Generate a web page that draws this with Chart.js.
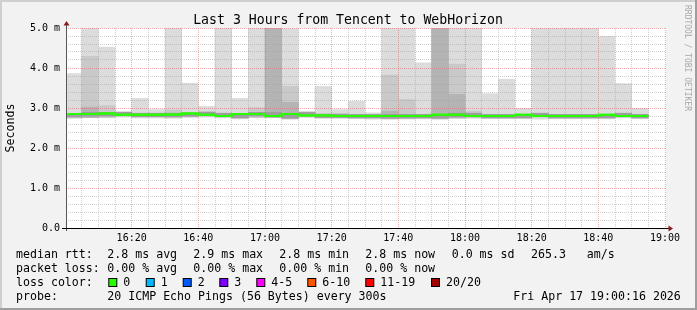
<!DOCTYPE html>
<html>
<head>
<meta charset="utf-8">
<script src="https://cdn.jsdelivr.net/npm/chart.js@4.4.1/dist/chart.umd.min.js"></script>
<style>
  html, body { margin: 0; padding: 0; background: #f2f2f2; }
  canvas { display: block; }
</style>
</head>
<body>
<canvas id="smokeChart" width="697" height="310"></canvas>
<script>
// 5 minute steps, start of each step
const slots = ['16:00','16:05','16:10','16:15','16:20','16:25','16:30','16:35','16:40','16:45',
               '16:50','16:55','17:00','17:05','17:10','17:15','17:20','17:25','17:30','17:35',
               '17:40','17:45','17:50','17:55','18:00','18:05','18:10','18:15','18:20','18:25',
               '18:30','18:35','18:40','18:45','18:50'];

// rtt in ms
const medianRtt = [2.82,2.85,2.85,2.86,2.83,2.83,2.83,2.84,2.86,2.83,2.80,2.85,2.85,2.80,2.85,2.81,2.81,2.80,2.80,2.80,
                   2.80,2.80,2.80,2.83,2.83,2.80,2.80,2.80,2.83,2.80,2.80,2.80,2.80,2.83,2.80];
const smokeMin  = [2.74,2.76,2.76,2.77,2.75,2.75,2.75,2.76,2.77,2.75,2.73,2.76,2.76,2.73,2.76,2.74,2.74,2.73,2.72,2.73,
                   2.73,2.73,2.73,2.75,2.75,2.73,2.73,2.73,2.72,2.73,2.73,2.73,2.73,2.75,2.73];
const smokeMax  = [3.86,5.00,4.52,2.89,3.24,2.96,5.00,3.62,3.04,5.00,3.24,5.00,5.00,4.98,2.92,3.54,2.96,3.17,2.88,5.00,
                   5.00,4.13,5.00,5.00,5.00,3.36,3.72,2.99,5.00,5.00,5.00,5.00,4.79,3.61,2.99];
const smokeMid  = [null,4.29,3.06,null,null,null,2.95,null,null,null,null,3.01,null,3.54,null,null,null,null,null,3.82,
                   3.21,null,null,4.10,2.92,null,null,null,null,null,null,null,null,null,null];
const smokeDark = [null,3.02,null,null,null,null,null,null,null,null,null,null,5.00,3.14,null,null,null,null,null,2.92,
                   null,null,5.00,3.34,null,null,null,null,null,null,null,null,null,null,null];
const coreLow   = [2.77,2.80,2.80,2.81,2.78,2.78,2.78,2.79,2.81,2.78,2.75,2.80,2.80,2.75,2.80,2.76,2.76,2.75,2.75,2.75,
                   2.75,2.75,2.75,2.78,2.78,2.75,2.75,2.75,2.78,2.75,2.75,2.75,2.75,2.78,2.75];
const coreHigh  = [2.86,2.89,2.89,2.90,2.87,2.87,2.87,2.88,2.90,2.87,2.84,2.89,2.89,2.84,2.89,2.85,2.85,2.84,2.84,2.84,
                   2.84,2.84,2.84,2.87,2.87,2.84,2.84,2.84,2.87,2.84,2.84,2.84,2.84,2.87,2.84];

const timeTicks = ['16:20','16:40','17:00','17:20','17:40','18:00','18:20','18:40','19:00'];
const rttTicks  = ['0.0','1.0 m','2.0 m','3.0 m','4.0 m','5.0 m'];

const rttStats  = ['2.8 ms avg','2.9 ms max','2.8 ms min','2.8 ms now','0.0 ms sd','265.3','am/s'];
const lossStats = ['0.00 % avg','0.00 % max','0.00 % min','0.00 % now'];
const lossLabels = ['0','1','2','3','4-5','6-10','11-19','20/20'];
const lossColors = ['#26ff00','#00b8ff','#0059ff','#7e00ff','#ff00ff','#ff5500','#ff0000','#a10000'];
const probeText = '20 ICMP Echo Pings (56 Bytes) every 300s';
const stampText = 'Fri Apr 17 19:00:16 2026';

const STEP = 5;
const toMin = s => { const [h, m] = s.split(':').map(Number); return (h - 16) * 60 + m; };
const mids = slots.map(s => toMin(s) + STEP / 2);

const rangeData = (lo, hi) => mids
  .map((x, i) => (hi[i] == null ? null : { x: x, y: [lo[i], hi[i]] }))
  .filter(d => d);

// higher order is painted first (underneath)
const barStyle = (color, order) => ({
  type: 'bar', backgroundColor: color, borderWidth: 0, grouped: false, order: order,
  barPercentage: 1, categoryPercentage: 1
});

const medianLine = slots.map((s, i) => ({ x: toMin(s), y: medianRtt[i] }));
medianLine.push({ x: toMin(slots[slots.length - 1]) + STEP, y: medianRtt[medianRtt.length - 1] });

const MONO = '"DejaVu Sans Mono", monospace';
const isWhole = v => Math.abs(v - Math.round(v)) < 1e-6;
const MAJOR = 'rgba(225,90,90,0.5)';
const MINOR = 'rgba(160,160,160,0.5)';

const frame = {
  id: 'frame',
  beforeDraw(chart) {
    const { ctx, chartArea: a, width: W, height: H } = chart;
    ctx.save();
    ctx.fillStyle = '#f2f2f2';
    ctx.fillRect(0, 0, W, H);
    ctx.fillStyle = '#cfcfcf';
    ctx.fillRect(0, 0, W, 2);
    ctx.fillRect(0, 0, 2, H);
    ctx.fillStyle = '#9e9e9e';
    ctx.fillRect(0, H - 2, W, 2);
    ctx.fillRect(W - 2, 0, 2, H);
    ctx.fillStyle = '#ffffff';
    ctx.fillRect(a.left, a.top, a.right - a.left, a.bottom - a.top);
    ctx.restore();
  },
  afterDraw(chart) {
    const { ctx, chartArea: a } = chart;
    // median above the grid
    const idx = chart.data.datasets.findIndex(d => d.type === 'line');
    const meta = chart.getDatasetMeta(idx);
    ctx.save();
    ctx.beginPath();
    ctx.rect(a.left, a.top, a.right - a.left, a.bottom - a.top);
    ctx.clip();
    meta.controller.draw();
    ctx.restore();

    ctx.save();
    // axes
    ctx.lineWidth = 1;
    ctx.strokeStyle = '#555';
    ctx.beginPath();
    ctx.moveTo(a.left + 0.5, a.bottom + 3);
    ctx.lineTo(a.left + 0.5, a.top - 4);
    ctx.stroke();
    ctx.strokeStyle = '#000';
    ctx.beginPath();
    ctx.moveTo(a.left - 4, a.bottom + 0.5);
    ctx.lineTo(a.right + 4, a.bottom + 0.5);
    ctx.stroke();
    ctx.fillStyle = '#8b1a1a';
    ctx.beginPath();
    ctx.moveTo(a.left + 0.5, a.top - 7);
    ctx.lineTo(a.left - 2.5, a.top - 2.5);
    ctx.lineTo(a.left + 3.5, a.top - 2.5);
    ctx.fill();
    ctx.beginPath();
    ctx.moveTo(a.right + 7, a.bottom + 0.5);
    ctx.lineTo(a.right + 2.5, a.bottom - 2.5);
    ctx.lineTo(a.right + 2.5, a.bottom + 3.5);
    ctx.fill();

    // title
    ctx.fillStyle = '#000';
    ctx.font = '13.2px ' + MONO;
    ctx.textAlign = 'center';
    ctx.textBaseline = 'alphabetic';
    ctx.fillText('Last 3 Hours from Tencent to WebHorizon', 348, 24);

    // vertical labels
    ctx.save();
    ctx.translate(14, (a.top + a.bottom) / 2);
    ctx.rotate(-Math.PI / 2);
    ctx.font = '11.6px ' + MONO;
    ctx.fillText('Seconds', 0, 0);
    ctx.restore();

    ctx.save();
    ctx.translate(685, 5);
    ctx.rotate(Math.PI / 2);
    ctx.textAlign = 'left';
    ctx.font = '8px ' + MONO;
    ctx.fillStyle = '#a8a8a8';
    ctx.fillText('RRDTOOL / TOBI OETIKER', 0, 0);
    ctx.restore();

    // legend
    ctx.textAlign = 'left';
    ctx.font = '11.6px ' + MONO;
    ctx.fillStyle = '#000';
    const cols = [107.3, 193.3, 279.3, 365.3, 451.7, 531, 586.7];
    const rows = [258.3, 272, 285.8, 299.5];
    ctx.fillText('median rtt:', 16, rows[0]);
    rttStats.forEach((t, i) => ctx.fillText(t, cols[i], rows[0]));
    ctx.fillText('packet loss:', 16, rows[1]);
    lossStats.forEach((t, i) => ctx.fillText(t, cols[i], rows[1]));
    ctx.fillText('loss color:', 16, rows[2]);
    const boxX = [108.3, 145.7, 182.7, 219.3, 256.3, 307.3, 365.3, 431];
    lossLabels.forEach((t, i) => {
      ctx.fillStyle = lossColors[i];
      ctx.fillRect(boxX[i] + 0.5, 278.5, 8, 8);
      ctx.strokeStyle = '#000';
      ctx.strokeRect(boxX[i] + 0.5, 278.5, 8, 8);
      ctx.fillStyle = '#000';
      ctx.fillText(t, boxX[i] + 15, rows[2]);
    });
    ctx.fillText('probe:', 16, rows[3]);
    ctx.fillText(probeText, cols[0], rows[3]);
    ctx.fillText(stampText, 513.3, rows[3]);
    ctx.restore();
  }
};

new Chart(document.getElementById('smokeChart'), {
  type: 'bar',
  data: {
    datasets: [
      { ...barStyle('#dcdcdc', 5), data: rangeData(smokeMin, smokeMax) },
      { ...barStyle('#c9c9c9', 4), data: rangeData(smokeMin, smokeMid) },
      { ...barStyle('#b4b4b4', 3), data: rangeData(smokeMin, smokeDark) },
      { ...barStyle('#9d9d9d', 2), data: rangeData(coreLow, coreHigh) },
      { type: 'line', order: 1, data: medianLine, stepped: 'after', borderColor: '#26ff00',
        borderWidth: 2, pointRadius: 0, fill: false }
    ]
  },
  options: {
    responsive: false,
    animation: false,
    layout: { padding: { left: 0, right: 31, top: 28, bottom: 62 } },
    plugins: { legend: { display: false }, tooltip: { enabled: false } },
    scales: {
      x: {
        type: 'linear', min: 0.3, max: 180.3, offset: false,
        afterBuildTicks: scale => {
          const t = [];
          for (let v = 5; v <= 180; v += 5) t.push({ value: v });
          scale.ticks = t;
        },
        afterFit: scale => { scale.height = 20; },
        grid: {
          z: 1, drawTicks: false, lineWidth: 1, offset: false,
          color: c => (c.tick && c.tick.value % 20 === 0) ? MAJOR : MINOR
        },
        border: { display: false, dash: [1, 1] },
        ticks: {
          autoSkip: false, maxRotation: 0, minRotation: 0, padding: 4,
          color: '#000', font: { family: MONO, size: 10 },
          callback: v => (v % 20 === 0 ? timeTicks[v / 20 - 1] : '')
        }
      },
      y: {
        min: 0, max: 5,
        ticks: {
          stepSize: 0.2, autoSkip: false, padding: 6,
          color: '#000', font: { family: MONO, size: 10 },
          callback: v => (isWhole(v) ? rttTicks[Math.round(v)] : '')
        },
        afterFit: scale => { scale.width = 66; },
        grid: {
          z: 1, drawTicks: false, lineWidth: 1,
          color: c => (c.tick && isWhole(c.tick.value)) ? MAJOR : MINOR
        },
        border: { display: false, dash: [1, 1] }
      }
    }
  },
  plugins: [frame]
});
</script>
</body>
</html>
